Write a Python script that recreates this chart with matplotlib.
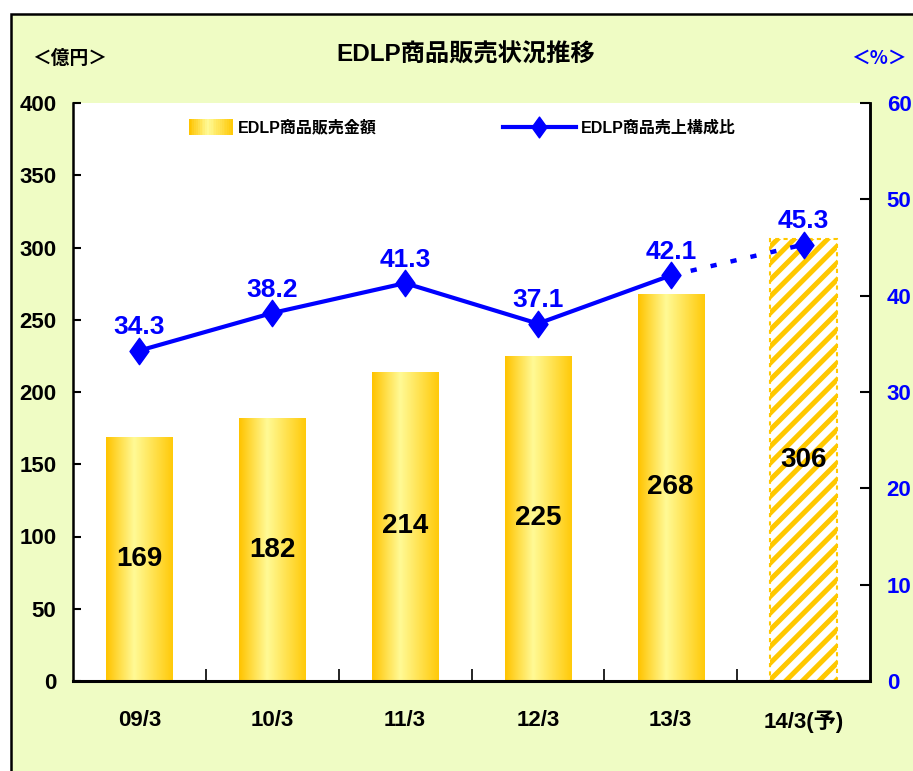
import numpy as np
import matplotlib
matplotlib.use('Agg')
import matplotlib.pyplot as plt
from matplotlib import font_manager
from matplotlib.patches import Rectangle
from matplotlib.lines import Line2D
from matplotlib.path import Path
from matplotlib.legend_handler import HandlerBase

# data
periods = ['09/3', '10/3', '11/3', '12/3', '13/3', '14/3(予)']
sales = [169, 182, 214, 225, 268, 306]          # 億円
share = [34.3, 38.2, 41.3, 37.1, 42.1, 45.3]    # %
n_actual = 5                                    # last one is a forecast

# fonts: narrow latin first, CJK as fallback
names = {f.name for f in font_manager.fontManager.ttflist}
latin = 'Liberation Sans Narrow'
if latin not in names:
    latin = 'Liberation Sans' if 'Liberation Sans' in names else 'DejaVu Sans'
fam = [latin, 'Noto Sans CJK JP', 'DejaVu Sans']
cjk = ['Noto Sans CJK JP', 'DejaVu Sans']
plt.rcParams['font.family'] = fam
plt.rcParams['font.weight'] = 'bold'
plt.rcParams['hatch.linewidth'] = 3.6

BG = '#EFFCC4'
GOLD = '#FFC800'
BLUE = '#0000FF'

# horizontal gold gradient used on bars and in the legend
stops = [0.0, 0.42, 1.0]
cols = np.array([[255, 196, 0], [255, 250, 150], [255, 202, 10]]) / 255.0
xs = np.linspace(0, 1, 64)
grad = np.stack([np.interp(xs, stops, cols[:, k]) for k in range(3)], axis=-1)[None, :, :]

fig = plt.figure(figsize=(9.13, 7.71), dpi=100)
fig.patch.set_facecolor('white')
fig.patches.append(Rectangle((11 / 913, -0.1), 1.2, 1.1 - 14 / 771, transform=fig.transFigure,
                             facecolor=BG, edgecolor='black', linewidth=1.8, zorder=-10))

ax = fig.add_axes([73 / 913, 1 - 681 / 771, 797 / 913, 578 / 771])
ax.set_facecolor('white')
x = np.arange(len(periods))

bars = ax.bar(x, sales, width=0.5, color='none', edgecolor='none', zorder=2)
for i, b in enumerate(bars):
    if i < n_actual:
        im = ax.imshow(grad, extent=[b.get_x(), b.get_x() + b.get_width(), 0, b.get_height()],
                       aspect='auto', zorder=2, interpolation='bilinear')
        im.set_clip_path(b)
    else:
        b.set_facecolor('white')
        b.set_edgecolor(GOLD)
        b.set_hatch('//')
        b.set_linestyle((0, (2, 2)))
        b.set_linewidth(1.5)

for xi, v in zip(x, sales):
    ax.text(xi, v / 2, str(v), ha='center', va='center', fontsize=20, color='black', zorder=5)

ax.set_xlim(-0.5, len(periods) - 0.5)
ax.set_ylim(0, 400)
ax.set_yticks(range(0, 401, 50))
ax.set_xticks(x)
ax.set_xticklabels(periods)
ax.set_xticks(x[:-1] + 0.5, minor=True)
ax.tick_params(axis='x', which='major', length=0, pad=21, labelsize=16)
ax.tick_params(axis='x', which='minor', direction='in', length=9, width=1.2)
ax.tick_params(axis='y', direction='in', length=6, width=1.5, pad=12, labelsize=16)
ax.spines['top'].set_visible(False)
ax.spines['left'].set_linewidth(1.8)
ax.spines['bottom'].set_linewidth(2.2)
ax.spines['right'].set_linewidth(1.8)

ax2 = ax.twinx()
ax2.set_ylim(0, 60)
ax2.set_yticks(range(0, 61, 10))
ax2.tick_params(axis='y', direction='in', length=7, width=1.5, pad=12, labelsize=16, labelcolor=BLUE)
for s in ['top', 'left', 'bottom']:
    ax2.spines[s].set_visible(False)
ax2.spines['right'].set_linewidth(1.8)

# tall diamond marker
diamond = Path([(0, 1), (0.72, 0), (0, -1), (-0.72, 0), (0, 1)],
               [Path.MOVETO, Path.LINETO, Path.LINETO, Path.LINETO, Path.CLOSEPOLY])

ax2.plot(x[:n_actual], share[:n_actual], color=BLUE, lw=3, zorder=4)
ax2.plot(x[n_actual - 1:], share[n_actual - 1:], color=BLUE, lw=3.2,
         linestyle=(0, (1.4, 3.2)), zorder=4)
ax2.plot(x, share, linestyle='none', marker=diamond, markersize=19, color=BLUE, zorder=5)
for xi, v in zip(x, share):
    ax2.annotate(f'{v:.1f}', (xi, v), xytext=(0, 8), textcoords='offset points',
                 ha='center', va='bottom', fontsize=19, color=BLUE, zorder=6)


# legend with gradient swatch
class GradProxy:
    pass


class HandlerGrad(HandlerBase):
    def create_artists(self, legend, orig_handle, xdescent, ydescent, width, height, fontsize, trans):
        sw = width * 0.6
        n = 24
        arts = []
        for k in range(n):
            c = grad[0, int(k / (n - 1) * (grad.shape[1] - 1))]
            arts.append(Rectangle((-xdescent + width - sw + k * sw / n, -ydescent - 2),
                                  sw / n + 0.3, height + 4, facecolor=c, edgecolor='none',
                                  transform=trans))
        return arts


line_handle = Line2D([], [], color=BLUE, lw=3, marker=diamond, markersize=15)
leg = ax2.legend([GradProxy(), line_handle], ['EDLP商品販売金額', 'EDLP商品売上構成比'],
                 handler_map={GradProxy: HandlerGrad()}, ncol=2, frameon=False,
                 loc='center', bbox_to_anchor=(0.47, 0.957), handlelength=4.6,
                 handletextpad=0.3, columnspacing=7.9, prop={'family': fam, 'size': 11.5, 'weight': 'bold'})

fig.text(0.51, 1 - 55 / 771, 'EDLP商品販売状況推移', ha='center', va='center', fontsize=17.5,
         family=fam)
fig.text(70 / 913, 1 - 58 / 771, '＜億円＞', ha='center', va='center', fontsize=13.5, family=cjk)
fig.text(879 / 913, 1 - 58 / 771, '＜%＞', ha='center', va='center', fontsize=13.5, family=cjk,
         color=BLUE)

fig.savefig('out.png', dpi=100, facecolor=fig.get_facecolor())
